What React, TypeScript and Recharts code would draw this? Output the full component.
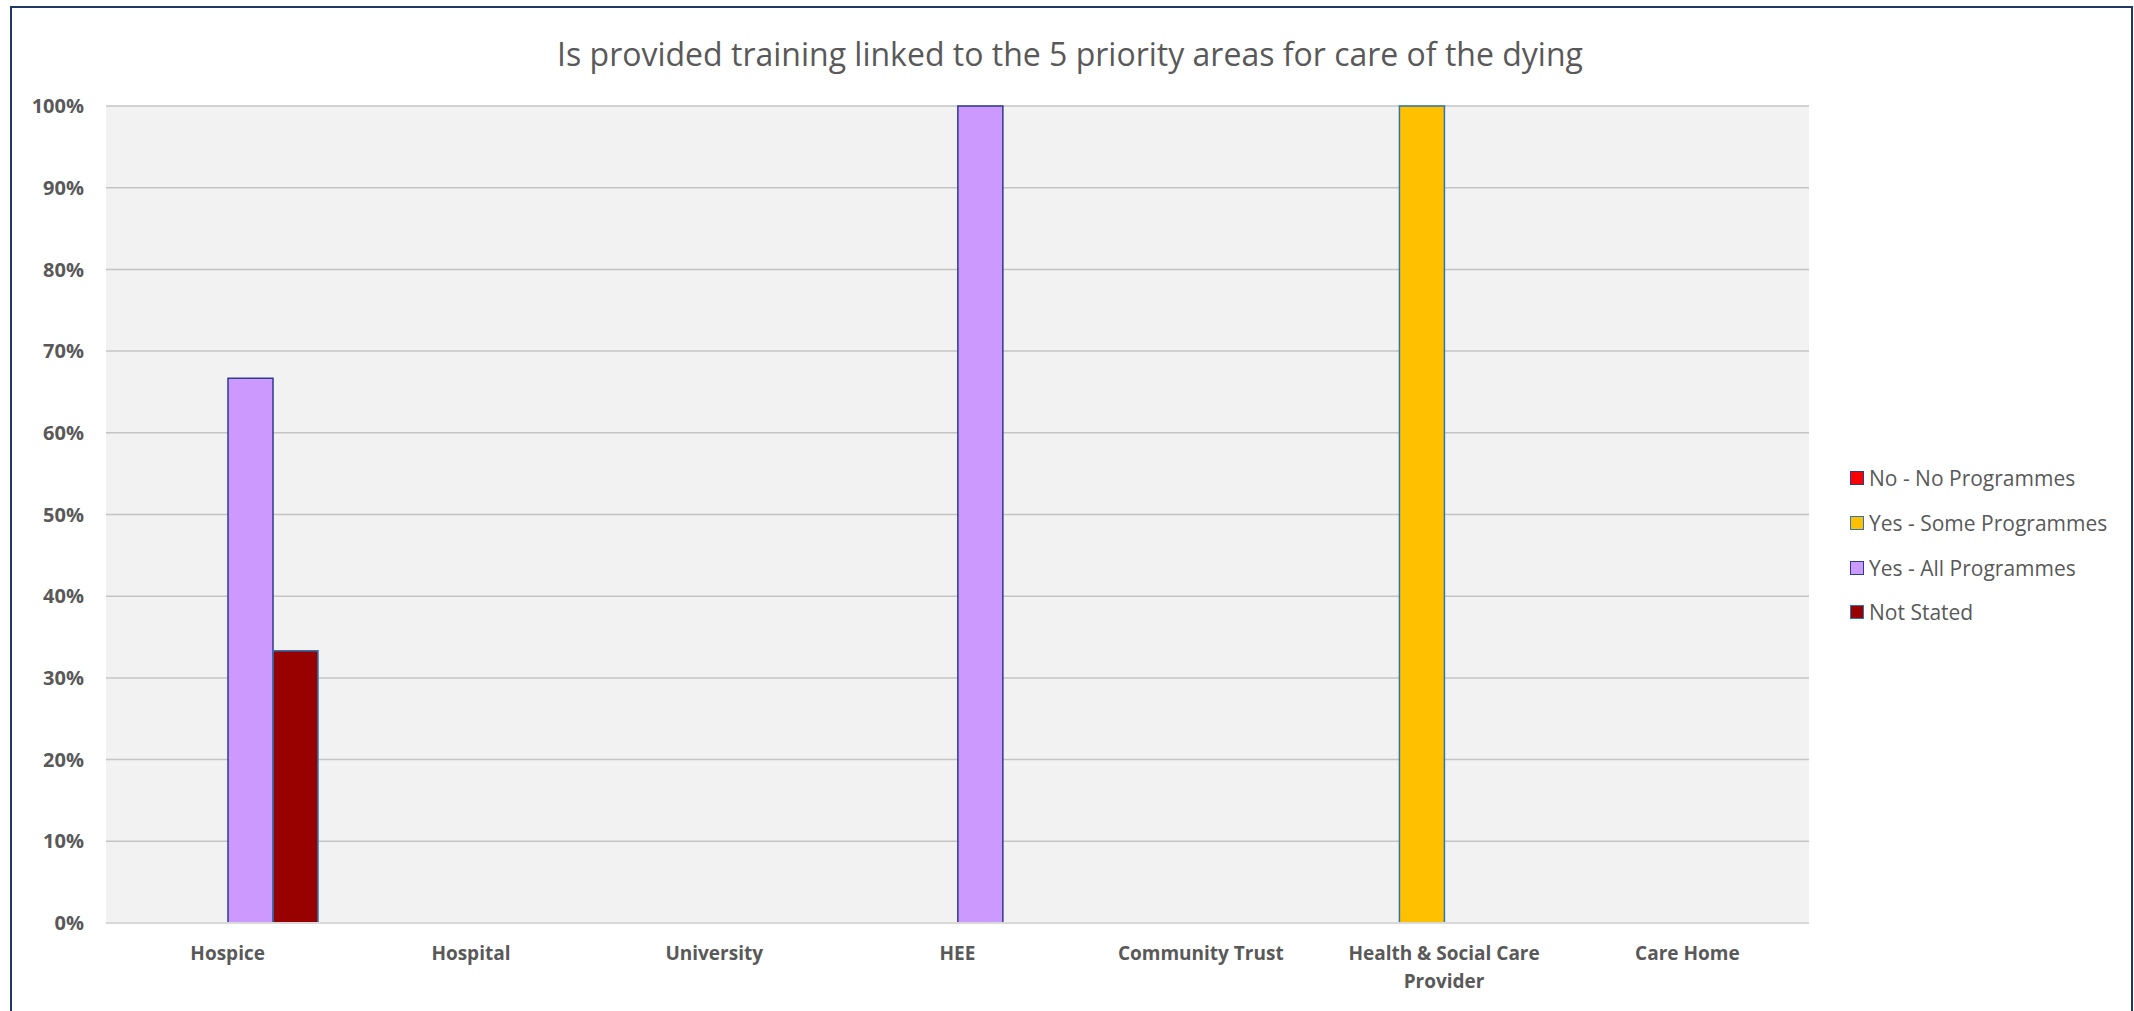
import React from "react";
import { BarChart, Bar, XAxis, YAxis, CartesianGrid, Legend } from "recharts";

const categories = [
  "Hospice",
  "Hospital",
  "University",
  "HEE",
  "Community Trust",
  "Health & Social Care Provider",
  "Care Home",
];
const noProgrammes = [0, 0, 0, 0, 0, 0, 0];
const someProgrammes = [0, 0, 0, 0, 0, 1, 0];
const allProgrammes = [0.6667, 0, 0, 1, 0, 0, 0];
const notStated = [0.3333, 0, 0, 0, 0, 0, 0];
const yTicks = [0, 0.1, 0.2, 0.3, 0.4, 0.5, 0.6, 0.7, 0.8, 0.9, 1];

const series = [
  { key: "no", name: "No - No Programmes", fill: "#ff0000", stroke: "#2f3b8c" },
  { key: "some", name: "Yes - Some Programmes", fill: "#ffc000", stroke: "#2e75b6" },
  { key: "all", name: "Yes - All Programmes", fill: "#cc99ff", stroke: "#2f3b8c" },
  { key: "ns", name: "Not Stated", fill: "#990000", stroke: "#2e75b6" },
];

const data = categories.map((c, i) => ({
  name: c,
  no: noProgrammes[i],
  some: someProgrammes[i],
  all: allProgrammes[i],
  ns: notStated[i],
}));

const FONT = "'Open Sans', 'Noto Sans', sans-serif";
const GREY = "#595959";

// greedy word wrap, like Excel does when a label is wider than its category
function wrap(label: string, maxChars: number) {
  const lines: string[] = [];
  let cur = "";
  for (const w of label.split(" ")) {
    const next = cur ? cur + " " + w : w;
    if (next.length > maxChars && cur) {
      lines.push(cur);
      cur = w;
    } else cur = next;
  }
  if (cur) lines.push(cur);
  return lines;
}

function CategoryTick(props: any) {
  const { x, y, payload } = props;
  const lines = wrap(String(payload.value), 21);
  return (
    <text
      x={x}
      y={y}
      textAnchor="middle"
      style={{ fontFamily: FONT, fontSize: 19, fontWeight: 700, fill: GREY }}
    >
      {lines.map((l, i) => (
        <tspan key={i} x={x} dy={i === 0 ? 14 : 28}>
          {l}
        </tspan>
      ))}
    </text>
  );
}

function LegendBox() {
  return (
    <div style={{ fontFamily: FONT, fontSize: 21, color: GREY }}>
      {series.map((s) => (
        <div key={s.key} style={{ height: 44.7, display: "flex", alignItems: "center" }}>
          <span
            style={{
              display: "inline-block",
              width: 12,
              height: 12,
              background: s.fill,
              border: `1.5px solid ${s.stroke}`,
              marginRight: 5,
            }}
          />
          <span>{s.name}</span>
        </div>
      ))}
    </div>
  );
}

export default function App() {
  return (
    <div style={{ position: "relative", width: 2134, height: 1011, overflow: "hidden", background: "#fff" }}>
      <style>{"body{margin:0;overflow:hidden}"}</style>
      <div
        style={{
          position: "absolute",
          left: 10,
          top: 6,
          width: 2119,
          height: 1020,
          border: "2px solid #203864",
          borderBottom: "none",
        }}
      />
      <div
        style={{
          position: "absolute",
          left: 0,
          width: 2140,
          top: 33,
          textAlign: "center",
          fontFamily: FONT,
          fontSize: 32,
          color: GREY,
          lineHeight: "42px",
        }}
      >
        Is provided training linked to the 5 priority areas for care of the dying
      </div>
      <div style={{ position: "absolute", left: 0, top: 0 }}>
        <BarChart
          width={2134}
          height={1011}
          data={data}
          margin={{ top: 106, right: 325, left: 26, bottom: 28 }}
          barCategoryGap={32}
          barGap={0}
        >
          <CartesianGrid vertical={false} fill="#f2f2f2" stroke="#c4c4c4" strokeWidth={1.5} />
          <XAxis
            dataKey="name"
            height={60}
            axisLine={{ stroke: "#d9d9d9", strokeWidth: 2 }}
            tickLine={false}
            tickSize={0}
            tickMargin={23}
            interval={0}
            tick={<CategoryTick />}
          />
          <YAxis
            width={80}
            domain={[0, 1]}
            ticks={yTicks}
            axisLine={false}
            tickLine={false}
            tickSize={0}
            tickMargin={22}
            tickFormatter={(v: number) => `${Math.round(v * 100)}%`}
            tick={{ fontFamily: FONT, fontSize: 20, fontWeight: 700, fill: GREY }}
          />
          <Legend
            layout="vertical"
            align="center"
            verticalAlign="middle"
            wrapperStyle={{ left: 1850, top: 456, width: 280 }}
            content={<LegendBox />}
          />
          {series.map((s) => (
            <Bar
              key={s.key}
              dataKey={s.key}
              name={s.name}
              fill={s.fill}
              stroke={s.stroke}
              strokeWidth={1.5}
              isAnimationActive={false}
            />
          ))}
        </BarChart>
      </div>
    </div>
  );
}
